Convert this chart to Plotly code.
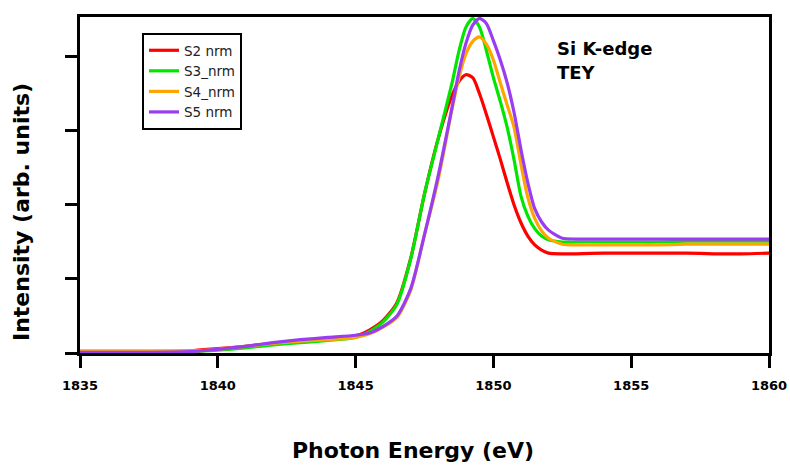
import plotly.graph_objects as go

energy = [1835, 1837, 1839, 1840, 1841, 1842, 1843, 1844, 1845, 1845.5, 1846, 1846.5,
          1847, 1847.5, 1848, 1848.5, 1848.75, 1849, 1849.25, 1849.5, 1849.75, 1850, 1850.25,
          1850.5, 1850.75, 1851, 1851.25, 1851.5, 1851.75, 1852, 1852.5, 1853, 1854,
          1855, 1856, 1857, 1858, 1859, 1860]

s2_nrm = [0.02, 0.02, 0.03, 0.06, 0.09, 0.13, 0.16, 0.19, 0.23, 0.31, 0.44, 0.68,
          1.28, 2.15, 2.90, 3.48, 3.67, 3.76, 3.72, 3.50, 3.22, 2.92, 2.62,
          2.30, 2.00, 1.76, 1.58, 1.46, 1.39, 1.35, 1.34, 1.34, 1.35,
          1.35, 1.35, 1.35, 1.34, 1.34, 1.35]

s3_nrm = [0.02, 0.02, 0.02, 0.04, 0.07, 0.11, 0.14, 0.17, 0.21, 0.29, 0.42, 0.66,
          1.27, 2.15, 2.90, 3.65, 4.08, 4.40, 4.52, 4.40, 4.08, 3.72, 3.40,
          3.05, 2.61, 2.12, 1.85, 1.68, 1.58, 1.53, 1.50, 1.50, 1.50,
          1.50, 1.50, 1.51, 1.51, 1.51, 1.51]

s4_nrm = [0.03, 0.03, 0.03, 0.05, 0.09, 0.13, 0.16, 0.18, 0.21, 0.26, 0.35, 0.48,
          0.85, 1.60, 2.35, 3.30, 3.72, 4.04, 4.21, 4.27, 4.17, 3.96, 3.65,
          3.35, 3.05, 2.55, 2.10, 1.82, 1.65, 1.55, 1.47, 1.46, 1.46,
          1.46, 1.46, 1.47, 1.47, 1.47, 1.47]

s5_nrm = [0.01, 0.01, 0.02, 0.05, 0.09, 0.14, 0.18, 0.21, 0.24, 0.27, 0.36, 0.50,
          0.87, 1.60, 2.40, 3.32, 3.80, 4.18, 4.43, 4.52, 4.45, 4.22, 3.96,
          3.65, 3.25, 2.75, 2.30, 1.95, 1.77, 1.66, 1.55, 1.54, 1.54,
          1.54, 1.54, 1.54, 1.54, 1.54, 1.54]

series_names = ["S2 nrm", "S3_nrm", "S4_nrm", "S5 nrm"]
series_values = [s2_nrm, s3_nrm, s4_nrm, s5_nrm]
series_colors = ["#ff0000", "#00e600", "#ffa500", "#9a3cf0"]

x_ticks = [1835, 1840, 1845, 1850, 1855, 1860]
y_ticks = [0, 1, 2, 3, 4]

FONT = "DejaVu Sans, Arial, sans-serif"

fig = go.Figure()
for name, vals, col in zip(series_names, series_values, series_colors):
    fig.add_trace(go.Scatter(
        x=energy, y=vals, mode="lines", name=name,
        line=dict(color=col, width=3.2, shape="spline", smoothing=0.7),
    ))

fig.update_layout(
    width=790, height=466,
    margin=dict(l=80, r=21, t=17, b=113),
    paper_bgcolor="white", plot_bgcolor="white",
    font=dict(family=FONT, color="black"),
    showlegend=True,
    legend=dict(
        x=(142 - 80) / 689, y=(353 - 33) / 336, xanchor="left", yanchor="top",
        bgcolor="white", bordercolor="black", borderwidth=2,
        font=dict(family=FONT, size=13.5, color="#222"),
        tracegroupgap=0, itemwidth=30,
        entrywidth=85, entrywidthmode="pixels",
    ),
    xaxis=dict(
        range=[1835, 1860], tickvals=x_ticks, ticktext=[str(v) for v in x_ticks],
        showgrid=False, zeroline=False, automargin=False,
        showline=True, linecolor="black", linewidth=3, mirror=True,
        ticks="outside", ticklen=12, tickwidth=2.5, tickcolor="black",
        ticklabelstandoff=6,
        tickfont=dict(family=FONT, size=13, color="black", weight="bold"),
    ),
    yaxis=dict(
        range=[0, 4.54], tickvals=y_ticks, showticklabels=False,
        showgrid=False, zeroline=False, automargin=False,
        showline=True, linecolor="black", linewidth=3, mirror=True,
        ticks="outside", ticklen=12, tickwidth=2.5, tickcolor="black",
    ),
    annotations=[
        dict(text="Photon Energy (eV)", xref="paper", yref="paper",
             x=(413 - 80) / 689, y=(353 - 450) / 336, xanchor="center", yanchor="middle",
             showarrow=False, font=dict(family=FONT, size=22, color="black", weight="bold")),
        dict(text="Intensity (arb. units)", xref="paper", yref="paper",
             x=(22 - 80) / 689, y=(353 - 212) / 336, xanchor="center", yanchor="middle",
             textangle=-90, showarrow=False,
             font=dict(family=FONT, size=22, color="black", weight="bold")),
        dict(text="Si K-edge", xref="paper", yref="paper",
             x=(555 - 80) / 689, y=(353 - 48) / 336, xanchor="left", yanchor="middle",
             showarrow=False, font=dict(family=FONT, size=18, color="black", weight="bold")),
        dict(text="TEY", xref="paper", yref="paper",
             x=(555 - 80) / 689, y=(353 - 73) / 336, xanchor="left", yanchor="middle",
             showarrow=False, font=dict(family=FONT, size=18, color="black", weight="bold")),
    ],
)

fig.write_html(
    "out.html",
    config={"displayModeBar": False},
    post_script="document.body.style.margin='0';document.body.style.overflow='hidden';",
)
